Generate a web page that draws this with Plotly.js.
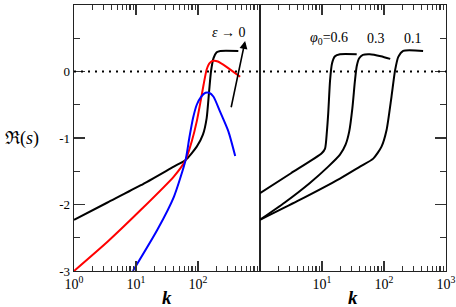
<!DOCTYPE html>
<html>
<head>
<meta charset="utf-8">
<script src="https://cdn.plot.ly/plotly-3.0.1.min.js"></script>
<style>html,body{margin:0;padding:0;background:#fff;}#chart{width:456px;height:307px;}</style>
</head>
<body>
<div id="chart"></div>
<script>
// Left panel: epsilon series
const kBlackL = [1, 3.47, 12.0, 40.7, 63.1, 95.5, 120, 138, 151, 162, 178, 200, 229, 447];
const yBlackL = [-2.23, -1.97, -1.71, -1.43, -1.33, -1.13, -0.95, -0.7, -0.3, 0.0, 0.2, 0.29, 0.31, 0.31];
const kRed = [1, 3.47, 12.0, 40.7, 63.1, 79.4, 95.5, 110, 123, 138, 155, 178, 209, 288, 479];
const yRed = [-3, -2.56, -2.08, -1.58, -1.33, -1.05, -0.75, -0.45, -0.2, 0.03, 0.13, 0.16, 0.15, 0.07, -0.08];
const kBlue = [8.91, 22.1, 41.0, 63.1, 72.4, 83.2, 95.5, 112, 132, 151, 178, 226, 309, 398];
const yBlue = [-3, -2.38, -1.88, -1.33, -1.0, -0.7, -0.5, -0.38, -0.32, -0.32, -0.38, -0.6, -0.9, -1.27];
// Right panel: phi0 series
const kPhi06 = [1, 3.16, 9.89, 11.2, 12.0, 12.6, 13.5, 14.5, 16.2, 19.5, 36.3];
const yPhi06 = [-1.83, -1.53, -1.23, -1.16, -0.9, -0.63, -0.13, 0.12, 0.23, 0.26, 0.26];
const kPhi03 = [1, 2.51, 6.31, 12.6, 19.5, 24.0, 27.5, 30.9, 33.9, 36.3, 39.8, 45.7, 58.9, 89.1, 126];
const yPhi03 = [-2.23, -1.97, -1.68, -1.43, -1.25, -1.1, -0.9, -0.55, -0.15, 0.08, 0.2, 0.25, 0.26, 0.23, 0.19];
const kPhi01 = [1, 3.98, 19.5, 41.0, 67.1, 91.2, 110, 132, 151, 170, 204, 427];
const yPhi01 = [-2.23, -1.95, -1.61, -1.43, -1.31, -1.13, -0.88, -0.38, 0.02, 0.22, 0.31, 0.31];
// Tick labels / tick positions
const xTickValsL = [1, 10, 100];
const xTickTextL = ['10<sup>0</sup>', '10<sup>1</sup>', '10<sup>2</sup>'];
const xTickValsR = [10, 100, 1000];
const xTickTextR = ['10<sup>1</sup>', '10<sup>2</sup>', '10<sup>3</sup>'];
const xMinorVals = [2, 3, 4, 5, 6, 7, 8, 9, 20, 30, 40, 50, 60, 70, 80, 90, 200, 300, 400, 500, 600, 700, 800, 900];
const yTickVals = [1, 0, -1, -2, -3];
const yTickText = ['1', '0', '-1', '-2', '-3'];
const yMinorVals = [0.5, -0.5, -1.5, -2.5];
const phiLabels = ['<i>φ</i><sub>0</sub>=0.6', '0.3', '0.1'];
const epsLabel = '<i>ε</i> → 0';

const FONT = "'Liberation Serif', 'DejaVu Serif', serif";
const lineStyle = (c) => ({color: c, width: 2, shape: 'spline', smoothing: 0.6});

const traces = [
  {x: kBlackL, y: yBlackL, xaxis: 'x', yaxis: 'y', mode: 'lines', line: lineStyle('#000')},
  {x: kRed, y: yRed, xaxis: 'x', yaxis: 'y', mode: 'lines', line: lineStyle('#ff0000')},
  {x: kBlue, y: yBlue, xaxis: 'x', yaxis: 'y', mode: 'lines', line: lineStyle('#0000ff')},
  {x: kPhi06, y: yPhi06, xaxis: 'x2', yaxis: 'y2', mode: 'lines', line: lineStyle('#000')},
  {x: kPhi03, y: yPhi03, xaxis: 'x2', yaxis: 'y2', mode: 'lines', line: lineStyle('#000')},
  {x: kPhi01, y: yPhi01, xaxis: 'x2', yaxis: 'y2', mode: 'lines', line: lineStyle('#000')}
];

const axisCommon = {
  showgrid: false, zeroline: false, showline: true, linecolor: '#222', linewidth: 1.3,
  tickcolor: '#333', tickwidth: 1.4, ticks: 'inside',
  tickfont: {family: FONT, size: 14, color: '#000'}
};
const xMinor = {tickmode: 'array', tickvals: xMinorVals, ticks: 'inside', ticklen: 5, tickcolor: '#333', tickwidth: 1.2, showgrid: false};
const yMinor = {tickmode: 'array', tickvals: yMinorVals, ticks: 'inside', ticklen: 6, tickcolor: '#333', tickwidth: 1.4, showgrid: false};
const xCommon = Object.assign({}, axisCommon, {
  type: 'log', range: [0, 3], mirror: 'ticks', ticklen: 10, tickmode: 'array', minor: xMinor
});

const layout = {
  width: 456, height: 307,
  margin: {l: 74, r: 10, t: 5, b: 36, pad: 0},
  paper_bgcolor: '#fff', plot_bgcolor: '#fff',
  showlegend: false,
  xaxis: Object.assign({}, xCommon, {domain: [0, 0.5], anchor: 'y', tickvals: xTickValsL, ticktext: xTickTextL}),
  xaxis2: Object.assign({}, xCommon, {domain: [0.5, 1], anchor: 'y2', tickvals: xTickValsR, ticktext: xTickTextR}),
  yaxis: Object.assign({}, axisCommon, {
    range: [-3, 1], anchor: 'x', mirror: true, ticklen: 11, tickmode: 'array',
    tickvals: yTickVals, ticktext: yTickText, tickfont: {family: FONT, size: 13, color: '#000'},
    minor: yMinor
  }),
  yaxis2: Object.assign({}, axisCommon, {
    range: [-3, 1], anchor: 'x2', side: 'right', mirror: true, ticklen: 11, showticklabels: false,
    tickmode: 'array', tickvals: yTickVals, minor: yMinor
  }),
  shapes: [
    {type: 'line', xref: 'paper', x0: 0, x1: 1, yref: 'y', y0: 0, y1: 0,
     line: {color: '#000', width: 2, dash: '2px,5px'}}
  ],
  annotations: [
    {xref: 'paper', yref: 'paper', x: -0.14, y: 0.5, xanchor: 'center', yanchor: 'middle',
     text: 'ℜ(<i>s</i>)', showarrow: false, font: {family: FONT, size: 18, color: '#000'}},
    {xref: 'paper', yref: 'paper', x: 0.25, y: -0.098, xanchor: 'center', yanchor: 'middle',
     text: '<b><i>k</i></b>', showarrow: false, font: {family: FONT, size: 19, color: '#000'}},
    {xref: 'paper', yref: 'paper', x: 0.75, y: -0.098, xanchor: 'center', yanchor: 'middle',
     text: '<b><i>k</i></b>', showarrow: false, font: {family: FONT, size: 19, color: '#000'}},
    {xref: 'x', yref: 'y', x: 2.50, y: 0.59, text: epsLabel, showarrow: false,
     xanchor: 'center', yanchor: 'middle', font: {family: FONT, size: 14, color: '#000'}},
    {xref: 'x', yref: 'y', x: 2.76, y: 0.46, axref: 'x', ayref: 'y', ax: 2.53, ay: -0.56,
     text: '', showarrow: true, arrowhead: 2, arrowsize: 1, arrowwidth: 1.6, arrowcolor: '#000'},
    {xref: 'x2', yref: 'y2', x: 1.11, y: 0.50, text: phiLabels[0], showarrow: false,
     xanchor: 'center', yanchor: 'middle', font: {family: FONT, size: 14, color: '#000'}},
    {xref: 'x2', yref: 'y2', x: 1.87, y: 0.50, text: phiLabels[1], showarrow: false,
     xanchor: 'center', yanchor: 'middle', font: {family: FONT, size: 14, color: '#000'}},
    {xref: 'x2', yref: 'y2', x: 2.47, y: 0.50, text: phiLabels[2], showarrow: false,
     xanchor: 'center', yanchor: 'middle', font: {family: FONT, size: 14, color: '#000'}}
  ]
};

Plotly.newPlot('chart', traces, layout, {staticPlot: true, displayModeBar: false});
</script>
</body>
</html>
